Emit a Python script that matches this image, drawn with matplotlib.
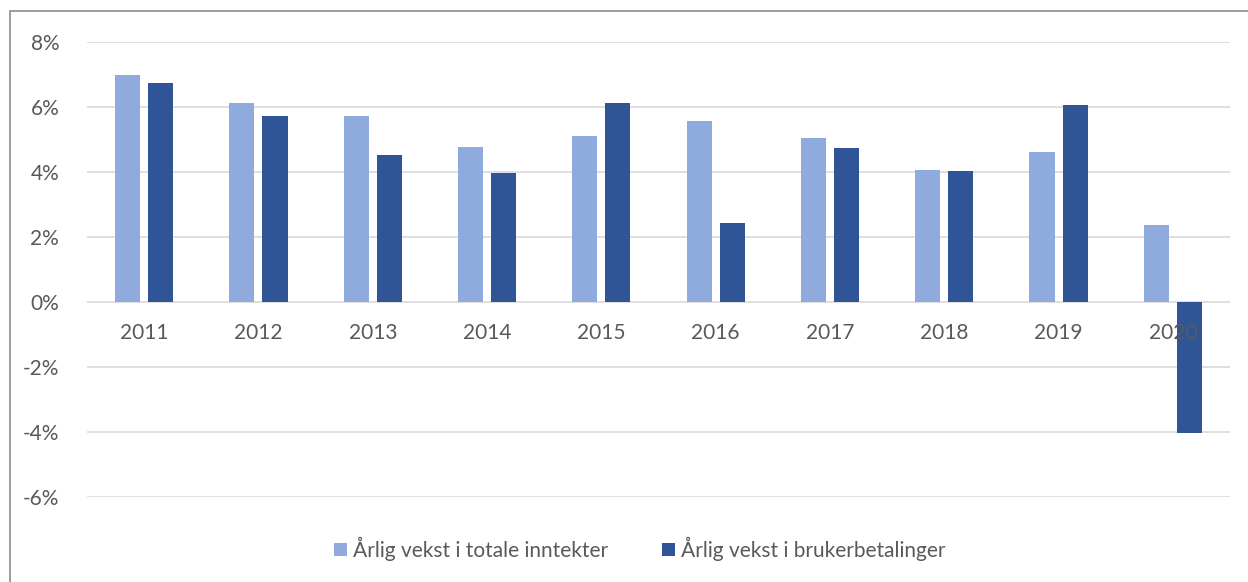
import matplotlib

matplotlib.use("Agg")
import matplotlib.pyplot as plt
from matplotlib.patches import Rectangle
import numpy as np

plt.rcParams["font.family"] = ["Lato", "DejaVu Sans"]

LIGHT, DARK, INK, GRID = "#8faadc", "#2f5597", "#595959", "#d9d9d9"
FS = 15

years = ["2011", "2012", "2013", "2014", "2015", "2016", "2017", "2018", "2019", "2020"]
totale_inntekter = [6.98, 6.12, 5.72, 4.77, 5.10, 5.57, 5.05, 4.06, 4.62, 2.37]
brukerbetalinger = [6.74, 5.72, 4.52, 3.97, 6.12, 2.43, 4.74, 4.03, 6.06, -4.03]
yticks = [-6, -4, -2, 0, 2, 4, 6, 8]

fig = plt.figure(figsize=(12.48, 5.82), dpi=100, facecolor="white")
fig.patches.append(Rectangle((10 / 1248, -0.01), 1.0, 1 - 11 / 582 + 0.01,
                             transform=fig.transFigure, fill=False,
                             edgecolor="#8c8c8c", lw=1.2))
ax = fig.add_axes([87 / 1248, 1 - 497 / 582, (1230 - 87) / 1248, (497 - 42) / 582])

x = np.arange(len(years))
w = 0.22
ax.bar(x - 0.145, totale_inntekter, w, color=LIGHT, label="Årlig vekst i totale inntekter", zorder=3)
ax.bar(x + 0.145, brukerbetalinger, w, color=DARK, label="Årlig vekst i brukerbetalinger", zorder=3)

ax.set_xlim(-0.5, len(years) - 0.5)
ax.set_ylim(-6, 8)
ax.set_yticks(yticks)
ax.set_yticklabels([f"{v}%" for v in yticks])
ax.tick_params(axis="y", length=0, pad=20, labelsize=FS, labelcolor=INK)
ax.set_xticks([])
ax.grid(axis="y", color=GRID, lw=1.2, zorder=0)
for s in ax.spines.values():
    s.set_visible(False)

# årstall rett under nullinjen
for i, yr in enumerate(years):
    ax.annotate(yr, (i, 0), xytext=(0, -31), textcoords="offset pixels",
                ha="center", va="center", fontsize=FS, color=INK, zorder=4)

leg = fig.legend(loc="center", bbox_to_anchor=(640 / 1248, 1 - 549 / 582), ncol=2,
                 frameon=False, fontsize=FS, handlelength=0.6, handleheight=0.6,
                 handletextpad=0.3, columnspacing=2.6)
for t in leg.get_texts():
    t.set_color(INK)

fig.savefig("out.png", dpi=100, facecolor="white")
